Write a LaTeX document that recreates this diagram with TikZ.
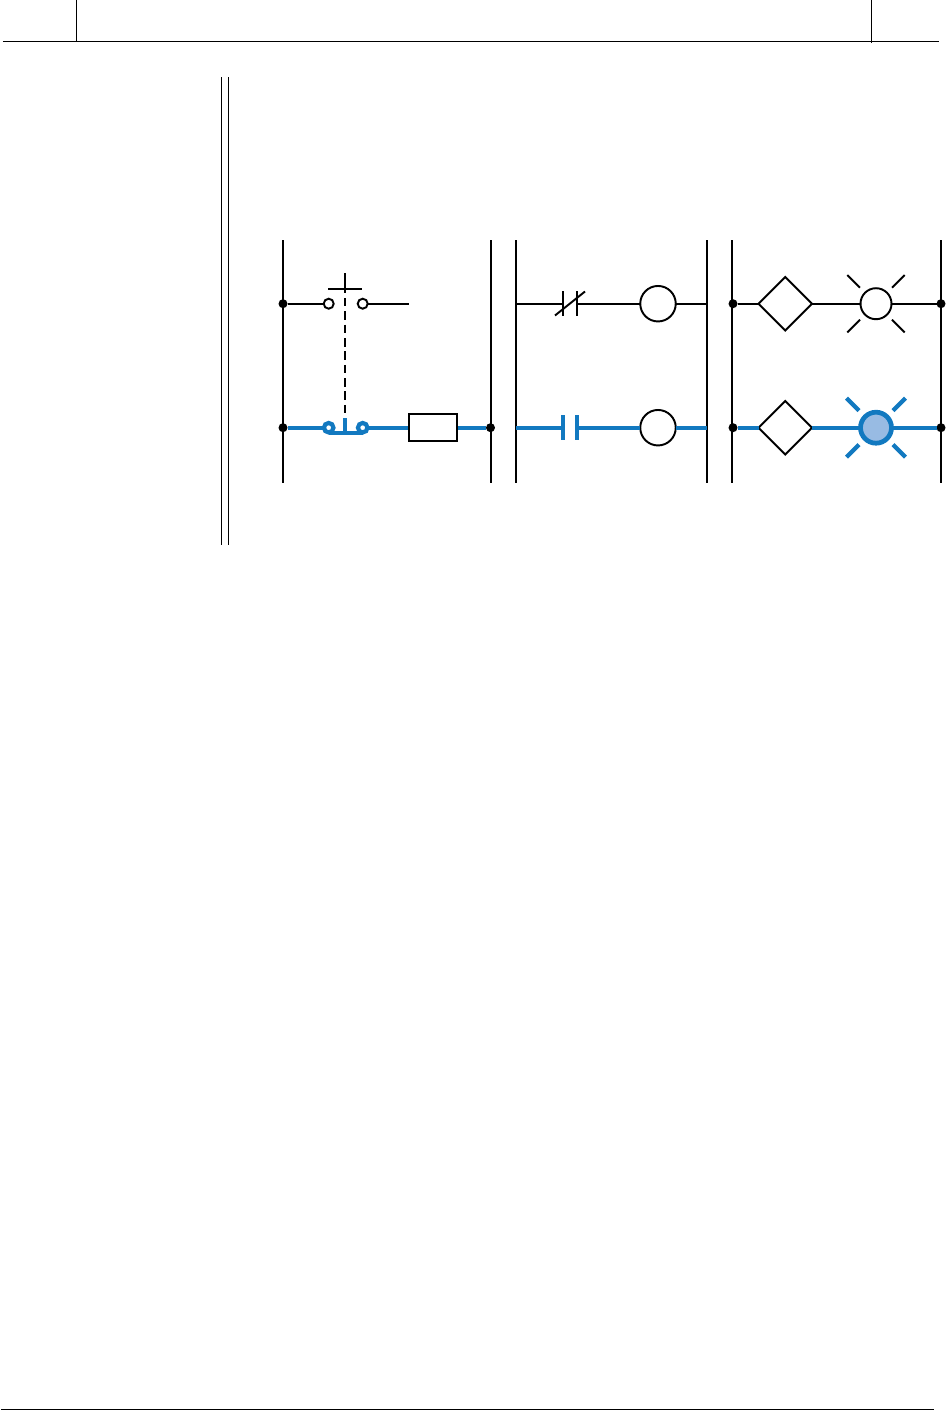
\documentclass[tikz,border=0pt]{standalone}
\usepackage{xcolor}
\usetikzlibrary{shapes.geometric}
\definecolor{wireblue}{HTML}{1279C0}
\definecolor{lampblue}{HTML}{98BBE3}
\tikzset{
	every node/.style={inner sep=0pt,outer sep=0pt},
	frameline/.style={line width=0.36pt,black},
	wire/.style={line width=0.55pt,black},
	livewire/.style={line width=1.2pt,wireblue},
	dot/.style={circle,fill=black,minimum size=0.9mm},
	terminal/.style={circle,draw,wire,fill=white,minimum size=1mm},
	liveterminal/.style={circle,draw,livewire,fill=white,minimum size=0.95mm},
	coil/.style={circle,draw,wire,fill=white,minimum size=3.55mm},
	lamp/.style={circle,draw,wire,fill=white,minimum size=3.1mm},
	livelamp/.style={circle,draw,wireblue,line width=1.35pt,fill=lampblue,minimum size=3.1mm},
	gate/.style={diamond,draw,wire,fill=white,minimum width=5.35mm,minimum height=5.35mm},
	load/.style={rectangle,draw,wire,fill=white,minimum width=4.83mm,minimum height=2.73mm}
}
\begin{document}
\begin{tikzpicture}[x=0.1mm,y=-0.1mm]
	\useasboundingbox (0,0) rectangle (946,1410);

	% page frame
	\draw[frameline] (3,41.3) -- (939,41.3);
	\draw[frameline] (76.7,0) -- (76.7,41.3);
	\draw[frameline] (871.7,0) -- (871.7,43);
	\draw[frameline] (1,1409.3) -- (934,1409.3);
	\draw[frameline] (221.7,77) -- (221.7,545);
	\draw[frameline] (228.7,77) -- (228.7,545);

	% rails
	\foreach \x in {283,490.7,516,707,731.7,941}
		\draw[wire] (\x,240) -- (\x,483);

	% first ladder: push button and load
	\node[dot] (d1a) at (283,303.7) {};
	\node[dot] (d1b) at (283,427.7) {};
	\node[dot] (d1c) at (490.5,427.7) {};
	\node[terminal] (pb1) at (328.7,303.7) {};
	\node[terminal] (pb2) at (362.7,303.7) {};
	\coordinate (pbend) at (408.7,303.7);
	\draw[wire] (d1a) -- (pb1);
	\draw[wire] (pb2) -- (pbend);
	\coordinate (capl) at (328,289);
	\coordinate (capr) at (362,289);
	\coordinate (captop) at (345,273);
	\coordinate (capend) at (345,293);
	\coordinate (dashtop) at (345,298);
	\coordinate (stem) at (345,418);
	\coordinate (stemend) at (345,433);
	\draw[wire] (capl) -- (capr);
	\draw[wire] (captop) -- (capend);
	\draw[wire,dash pattern=on 2.4pt off 1.4pt] (dashtop) -- (stem);
	\node[liveterminal] (pb3) at (328.7,427.7) {};
	\node[liveterminal] (pb4) at (362.7,427.7) {};
	\node[load] (rel) at (432.8,427.4) {};
	\coordinate (relin) at (408,427.7);
	\coordinate (relout) at (458,427.7);
	\coordinate (barl) at (328.7,432.7);
	\coordinate (barr) at (362.7,432.7);
	\draw[livewire] (d1b) -- (pb3);
	\draw[livewire] (pb4) -- (relin);
	\draw[livewire] (relout) -- (d1c);
	\draw[livewire] (stem) -- (stemend);
	\draw[livewire] (barl) -- (barr);

	% second ladder: contacts and coils
	\coordinate (r2a) at (516,303.7);
	\coordinate (r2b) at (707,303.7);
	\coordinate (r2c) at (516,427.7);
	\coordinate (r2d) at (707,427.7);
	\coordinate (nc1) at (563,303.7);
	\coordinate (nc2) at (577,303.7);
	\coordinate (no1) at (563,427.7);
	\coordinate (no2) at (577,427.7);
	\node[coil] (k1) at (658,303.7) {};
	\node[coil] (k2) at (658,427.7) {};
	\draw[wire] (r2a) -- (nc1);
	\draw[wire] (nc2) -- (k1);
	\draw[wire] (k1) -- (r2b);
	\draw[wire] (563,291) -- (563,315.7);
	\draw[wire] (577,291) -- (577,315.7);
	\draw[wire] (555,315.5) -- (585,291.5);
	\draw[livewire] (r2c) -- (no1);
	\draw[livewire] (no2) -- (k2);
	\draw[livewire] (k2) -- (r2d);
	\draw[livewire] (563,415) -- (563,440);
	\draw[livewire] (577,415) -- (577,440);

	% third ladder: gates and lamps
	\node[dot] (d3a) at (733,303.7) {};
	\node[dot] (d3b) at (941,303.7) {};
	\node[dot] (d3c) at (733,427.7) {};
	\node[dot] (d3d) at (941,427.7) {};
	\node[gate] (g1) at (785.3,303.7) {};
	\node[gate] (g2) at (785.3,427.7) {};
	\node[lamp] (l1) at (876,303.7) {};
	\node[livelamp] (l2) at (876,427.7) {};
	\draw[wire] (d3a) -- (g1);
	\draw[wire] (g1) -- (l1);
	\draw[wire] (l1) -- (d3b);
	\draw[livewire] (d3c) -- (g2);
	\draw[livewire] (g2) -- (l2);
	\draw[livewire] (l2) -- (d3d);
	\foreach \sx/\sy in {-1/-1,1/-1,-1/1,1/1} {
		\draw[wire] (876+\sx*16,303.7+\sy*16) -- (876+\sx*28.7,303.7+\sy*28.7);
		\draw[livewire] (876+\sx*17,427.7+\sy*17) -- (876+\sx*29.5,427.7+\sy*29.5);
	}
\end{tikzpicture}
\end{document}
